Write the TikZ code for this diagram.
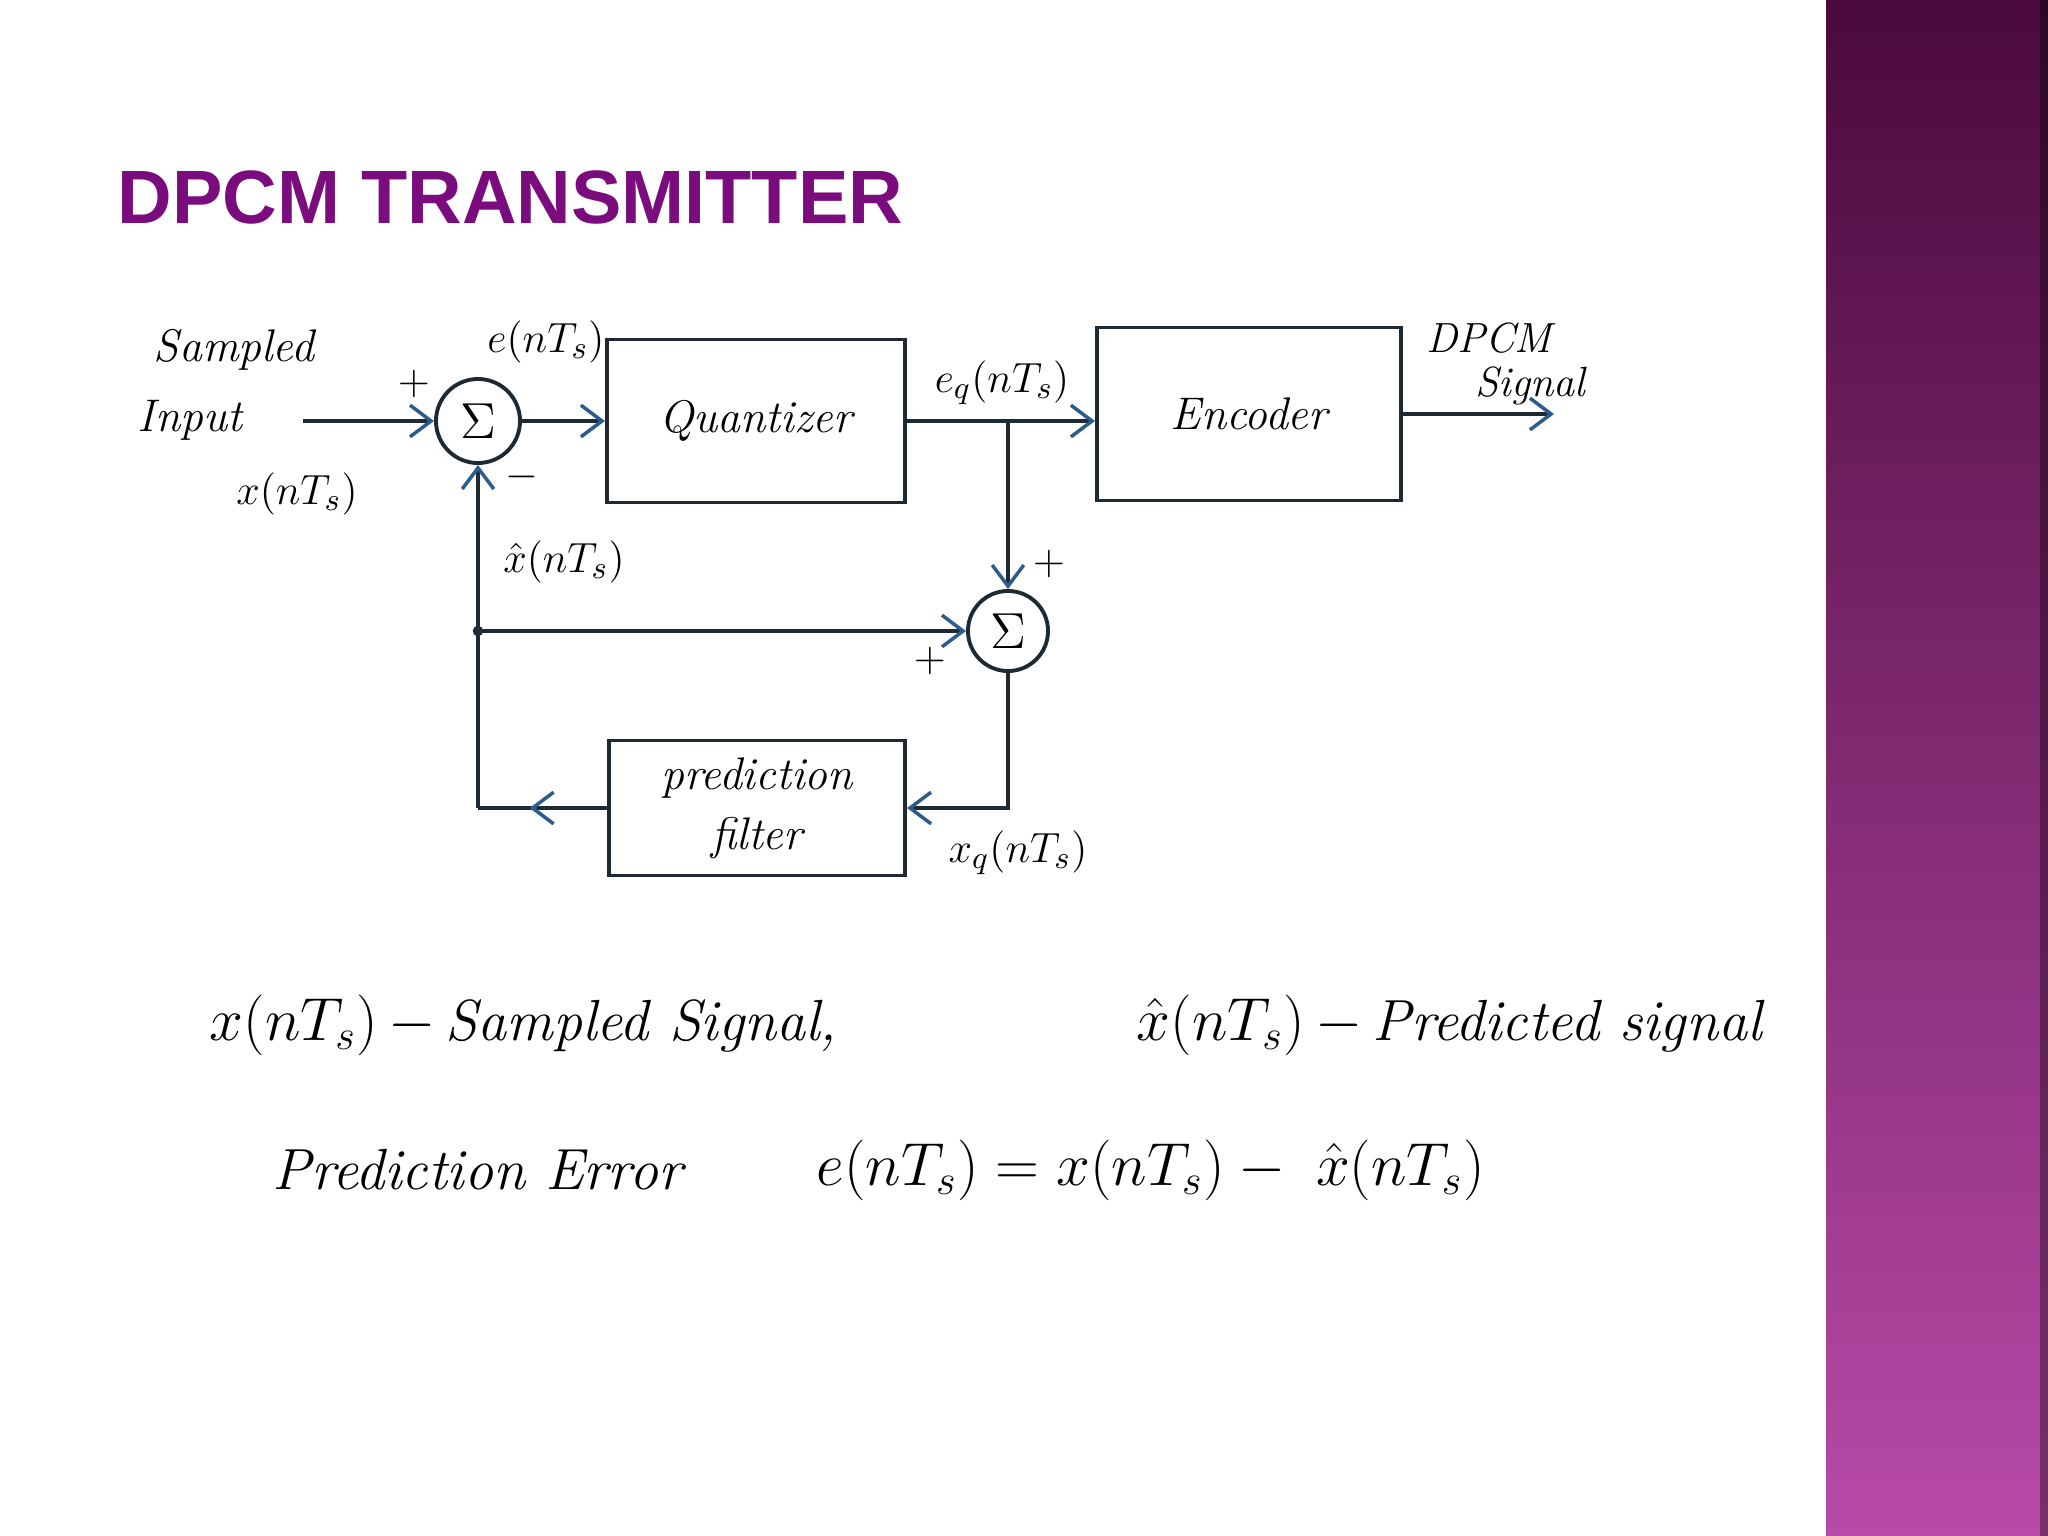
\documentclass[tikz,border=0pt]{standalone}
\usepackage{fontspec}
\usepackage{amsmath}
\usepackage{tikz}
\usetikzlibrary{arrows.meta, positioning, calc, decorations.markings}
\newfontfamily\titlefont{Liberation Sans}
\definecolor{slidepurple}{HTML}{7B0C7E}
\definecolor{wireblack}{HTML}{1E2A33}
\definecolor{tipblue}{HTML}{2B5C8C}
\definecolor{bartop}{HTML}{4A0A3C}
\definecolor{barbottom}{HTML}{B84AA8}

\begin{document}
\begin{tikzpicture}[x=0.01cm, y=-0.01cm,
  block/.style={rectangle, draw=wireblack, line width=1.1pt, fill=white,
    align=center, font=\fontsize{13}{17}\selectfont\itshape},
  summer/.style={circle, draw=wireblack, line width=1.1pt, fill=white,
    inner sep=0pt, minimum size=0.84cm, font=\fontsize{15}{17}\selectfont},
  wire/.style={line width=1pt, color=wireblack},
  sig/.style={wire, -{Straight Barb[length=6pt, width=9pt, color=tipblue]}},
  midarrow/.style={postaction={decorate}, decoration={markings,
    mark=at position 0.6 with {\arrow{Straight Barb[length=6pt, width=9pt, color=tipblue]}}}},
  hand/.style={font=\fontsize{13}{15}\selectfont\itshape, inner sep=1pt},
  sym/.style={font=\fontsize{13}{15}\selectfont, inner sep=1pt},
  sgn/.style={font=\fontsize{13}{15}\selectfont, inner sep=0pt},
  note/.style={font=\fontsize{16.5}{20}\selectfont, anchor=west, inner sep=0pt}
]
  % Page and side bar
  \useasboundingbox (0,0) rectangle (2048,1536);
  \fill[white] (0,0) rectangle (2048,1536);
  \fill[top color=bartop, bottom color=barbottom] (1826,0) rectangle (2048,1536);
  \fill[black, opacity=0.35] (2040,0) rectangle (2048,1536);

  % Title
  \node[font=\titlefont\bfseries\fontsize{21.5}{26}\selectfont, text=slidepurple,
    anchor=base west, inner sep=0pt] (title) at (117,223) {DPCM TRANSMITTER};

  % Nodes
  \node[summer] (sum1) at (478,421) {$\Sigma$};
  \node[block, minimum width=2.98cm, minimum height=1.63cm] (quant) at (756,421) {Quantizer};
  \node[block, minimum width=3.04cm, minimum height=1.73cm] (enc) at (1249,414) {Encoder};
  \node[summer, minimum size=0.8cm] (sum2) at (1008,631) {$\Sigma$};
  \node[block, minimum width=2.96cm, minimum height=1.35cm] (pred) at (757,808) {prediction\\filter};

  \coordinate (in) at (303,421);
  \coordinate (out) at (1554,414);
  \coordinate (tap) at (sum2 |- quant.east);
  \coordinate (jn) at (478,631);
  \coordinate (corner) at (478,808);

  % Labels
  \node[hand] (sampled) at (234,350) {Sampled};
  \node[hand] (input) at (190,420) {Input};
  \node[sym] (xlbl) at (297,494) {$x(nT_s)$};
  \node[sym] (elbl) at (546,342) {$e(nT_s)$};
  \node[sym] (eqlbl) at (1002,383) {$e_q(nT_s)$};
  \node[sym] (xhatlbl) at (564,562) {$\hat{x}(nT_s)$};
  \node[sym] (xqlbl) at (1018,853) {$x_q(nT_s)$};
  \node[hand, font=\fontsize{12}{14}\selectfont\itshape] (dpcm) at (1489,338) {DPCM};
  \node[hand, font=\fontsize{12}{14}\selectfont\itshape] (signal) at (1530,386) {Signal};
  \node[sgn] (p1) at (414,384) {$+$};
  \node[sgn] (m1) at (522,477) {$-$};
  \node[sgn] (p2) at (1049,564) {$+$};
  \node[sgn] (p3) at (930,661) {$+$};

  % Signal paths
  \draw[sig] (in) -- (sum1.west);
  \draw[sig] (sum1) -- (quant);
  \draw[sig] (quant.east) -- (enc.west |- quant.east);
  \draw[sig] (enc.east) -- (out);
  \draw[sig] (tap) -- (sum2.north);
  \draw[sig] (sum2.south) |- (pred.east);
  \draw[wire, midarrow] (pred.west) -- (corner);
  \draw[sig] (corner) -- (sum1.south);
  \draw[sig] (jn) -- (sum2.west);
  \fill[wireblack] (jn) circle (1.5pt);

  % Equations
  \node[note] (n1) at (209,1025) {$x(nT_s)\,-\,$\textit{Sampled Signal,}};
  \node[note] (n2) at (1136,1025) {$\hat{x}(nT_s)\,-\,$\textit{Predicted signal}};
  \node[note] (n3) at (272,1170) {\textit{Prediction Error}};
  \node[note] (n4) at (816,1170) {$e(nT_s) = x(nT_s) - \; \hat{x}(nT_s)$};
\end{tikzpicture}
\end{document}
